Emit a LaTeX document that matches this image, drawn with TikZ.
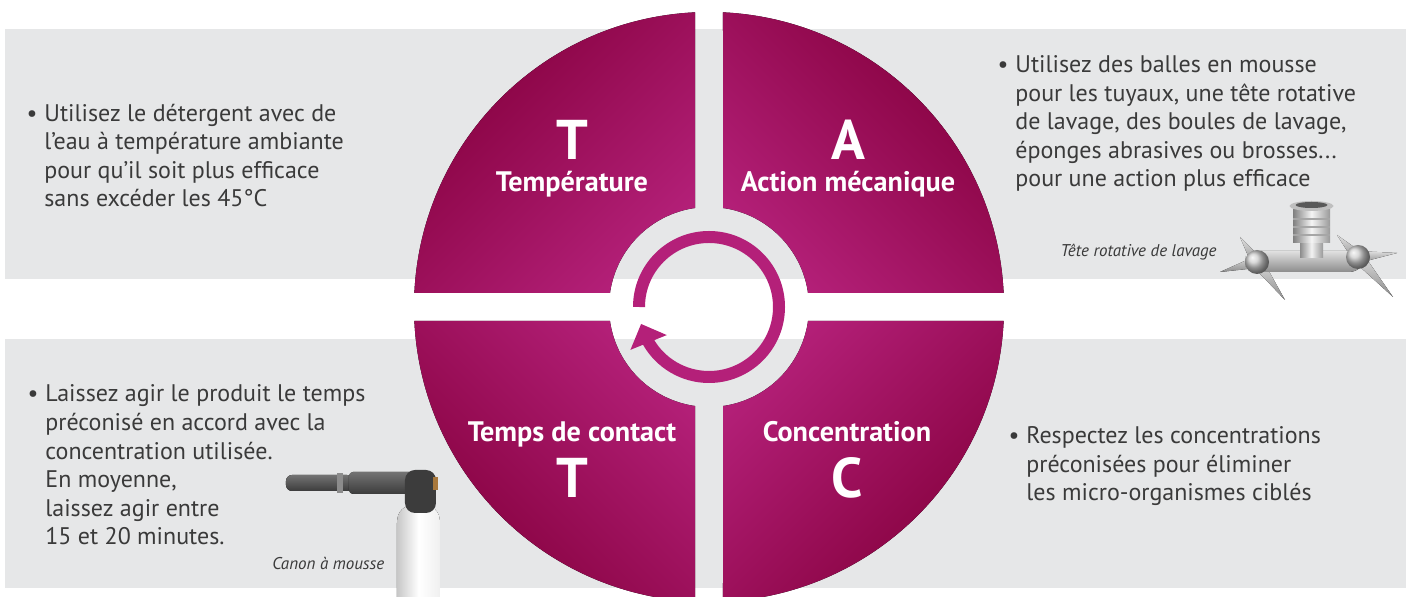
\documentclass[tikz,border=0pt]{standalone}
\usepackage{fontspec}
\setmainfont{PT Sans}
\usetikzlibrary{arrows.meta,bending,calc}
\definecolor{panelGray}{HTML}{E6E7E8}
\definecolor{textGray}{HTML}{3A3A3A}
\definecolor{magLight}{HTML}{B42079}
\definecolor{magDark}{HTML}{84003C}
\definecolor{gunDark}{HTML}{3C3C3C}
\definecolor{brass}{HTML}{A8783C}

\begin{document}
\begin{tikzpicture}
[x=0.5pt,y=0.5pt,
  panelDecorate/.style={fill=panelGray},
  quarterDecorate/.style={top color=magDark,bottom color=magLight},
  letterDecorate/.style={text=white,inner sep=0pt,anchor=base,font=\fontsize{28}{30}\selectfont\bfseries},
  titleDecorate/.style={text=white,inner sep=0pt,anchor=base,font=\fontsize{14.1}{16}\selectfont\bfseries},
  bodyDecorate/.style={text=textGray,inner sep=0pt,align=left,anchor=base west,font=\fontsize{12}{14.3}\selectfont},
  captionDecorate/.style={text=textGray,inner sep=0pt,font=\fontsize{8.5}{10}\selectfont\itshape},
  metalDecorate/.style={top color=black!12,bottom color=black!45}]
\newcommand{\bul}{\llap{\textbullet\hspace{3.5pt}}}
\useasboundingbox (-709,-290) rectangle (697,307);
\clip (-709,-290) rectangle (697,307);
%% grey panels
\fill[panelDecorate] (-704,28) rectangle (697,278);
\fill[panelDecorate] (-704,-281) rectangle (697,-32);
%% quarters of the wheel
\foreach \a/\ang in {0/45, -90/-45, 90/135, 180/225}
{
  \fill[quarterDecorate,shading angle=\ang]
    ({\a+177.28}:295) arc[start angle=\a+177.28,end angle=\a+92.72,radius=295]
    -- ({\a+98.05}:100) arc[start angle=\a+98.05,end angle=\a+171.95,radius=100]
    -- cycle;
}
%% turning arrow in the hub
\draw[line width=6pt,magLight,-{Triangle[length=10pt,width=19pt]}]
  (180:70) arc[start angle=180,end angle=-166,radius=70];
%% letters and titles
\foreach \name/\x/\y/\txt in {
  letterT/-137/147/T, letterA/139/147/A, letterTT/-137/-191/T, letterC/138/-191/C}
{
  \node[letterDecorate] (\name) at (\x,\y) {\txt};
}
\foreach \name/\x/\y/\txt in {
  temperature/-137/115/Température, action/139/115/Action mécanique,
  contact/-137/-135/Temps de contact, concentration/138/-135/Concentration}
{
  \node[titleDecorate] (\name) at (\x,\y) {\txt};
}
%% advice texts (placed at the baseline of their last line)
\node[bodyDecorate] (adviceT) at (-665,100) {\bul Utilisez le détergent avec de\\
  l’eau à température ambiante\\ pour qu’il soit plus efficace\\ sans excéder les 45°C};
\node[bodyDecorate] (adviceA) at (306,120) {\bul Utilisez des balles en mousse\\
  pour les tuyaux, une tête rotative\\ de lavage, des boules de lavage,\\
  éponges abrasives ou brosses...\\ pour une action plus efficace};
\node[bodyDecorate] (adviceTT) at (-664,-238) {\bul Laissez agir le produit le temps\\
  préconisé en accord avec la\\ concentration utilisée.\\ En moyenne,\\
  laissez agir entre\\ 15 et 20 minutes.};
\node[bodyDecorate] (adviceC) at (317,-194) {\bul Respectez les concentrations\\
  préconisées pour éliminer\\ les micro-organismes ciblés};
%% rotary washing head
\coordinate (leftBall) at (548,45);
\coordinate (rightBall) at (649,50);
\foreach \ball/\x/\y in {
  leftBall/511/35, leftBall/531/70, leftBall/576/7,
  rightBall/688/54, rightBall/628/72, rightBall/684/10}
{
  \fill[metalDecorate] ($(\ball)!3pt!90:(\x,\y)$) -- (\x,\y) -- ($(\ball)!3pt!-90:(\x,\y)$) -- cycle;
}
\fill[metalDecorate,rounded corners=8pt] (536,35) rectangle (656,56);
\fill[left color=black!45,right color=black!40,middle color=black!5] (591,49) rectangle (614,66);
\fill[left color=black!50,right color=black!40,middle color=black!4] (584,64) rectangle (621,100);
\foreach \y in {72,80,88}
{
  \draw[black!35,line width=0.6pt] (584,\y) -- (621,\y);
}
\fill[black!25] (602.5,101) ellipse (22 and 5);
\fill[black!65] (602.5,102) ellipse (16 and 3);
\shade[ball color=black!20] (leftBall) circle (12);
\shade[ball color=black!20] (rightBall) circle (12);
\node[captionDecorate,anchor=base east] (headCaption) at (508,50) {Tête rotative de lavage};
%% foam cannon
\fill[left color=black!22,right color=black!6,middle color=white]
  (-312,-295) -- (-312,-216) .. controls (-312,-204) and (-305,-198) .. (-294,-198)
  -- (-287,-198) .. controls (-276,-198) and (-269,-204) .. (-269,-216) -- (-269,-295) -- cycle;
\fill[top color=black!55,bottom color=gunDark,rounded corners=3pt] (-423,-184) rectangle (-356,-168);
\fill[top color=black!55,bottom color=gunDark,rounded corners=2pt] (-360,-187) rectangle (-292,-165);
\fill[black!45] (-372,-186) rectangle (-366,-166);
\fill[gunDark,rounded corners=5pt] (-304,-163) rectangle (-273,-206);
\fill[brass] (-276,-170) rectangle (-271,-183);
\node[captionDecorate,anchor=base west] (cannonCaption) at (-437,-263) {Canon à mousse};
\end{tikzpicture}
\end{document}
